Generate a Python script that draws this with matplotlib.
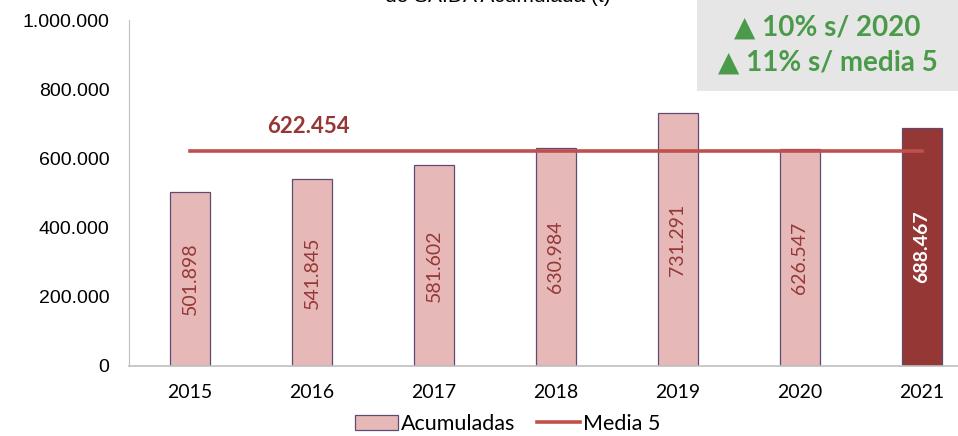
import numpy as np
import matplotlib

matplotlib.use("Agg")
import matplotlib.pyplot as plt
from matplotlib.patches import Patch
from matplotlib.lines import Line2D

YEARS = ["2015", "2016", "2017", "2018", "2019", "2020", "2021"]
ACUMULADAS = [501898, 541845, 581602, 630984, 731291, 626547, 688467]
MEDIA_5 = 622454
YTICKS = [0, 200000, 400000, 600000, 800000, 1000000]
BOX_LINES = ["\u25B2 10% s/ 2020", "\u25B2 11% s/ media 5"]
TITLE = "de SAÍDA Acumulada (t)"

BAR_COLOR = "#E6B9B8"
LAST_COLOR = "#953735"
EDGE = "#5F4B72"
LINE_COLOR = "#C0504D"
LABEL_COLOR = "#953735"
GREEN = "#4A9A4A"


def fmt(v):
    return f"{v:,.0f}".replace(",", ".")


fig = plt.figure(figsize=(9.58, 4.36), dpi=100)
ax = fig.add_axes([129 / 958, 1 - 366 / 436, 854 / 958, 346 / 436])

x = np.arange(len(YEARS))
colors = [BAR_COLOR] * (len(YEARS) - 1) + [LAST_COLOR]
ax.bar(x, ACUMULADAS, width=0.32, color=colors, edgecolor=EDGE, linewidth=0.9, zorder=2)
ax.plot([x[0], x[-1]], [MEDIA_5, MEDIA_5], color=LINE_COLOR, linewidth=2.6, zorder=3)

for i, v in enumerate(ACUMULADAS):
    last = i == len(ACUMULADAS) - 1
    ax.text(i, v / 2, fmt(v), rotation=90, ha="center", va="center",
            fontsize=14, family="Lato",
            color="white" if last else LABEL_COLOR,
            fontweight="bold" if last else "normal", zorder=4)

ax.text(0.97, MEDIA_5 + 70000, fmt(MEDIA_5), ha="center", va="center",
        fontsize=16, fontweight="bold", family="Lato", color=LABEL_COLOR)

ax.set_xlim(-0.5, len(YEARS) - 0.5)
ax.set_ylim(0, 1000000)
ax.set_xticks(x)
ax.set_xticklabels(YEARS, fontsize=14, family="Lato")
ax.set_yticks(YTICKS)
ax.set_yticklabels([fmt(v) for v in YTICKS], fontsize=14, family="Liberation Sans")
ax.tick_params(axis="x", length=0, pad=13)
ax.tick_params(axis="y", length=0, pad=14)
for s in ["top", "right"]:
    ax.spines[s].set_visible(False)
ax.spines["left"].set_color("#BFBFBF")
ax.spines["bottom"].set_color("#BFBFBF")
ax.spines["bottom"].set_linewidth(1.2)

# gray annotation box, top right
box = fig.add_axes([697 / 958, 1 - 91 / 436, 261 / 958, 91 / 436])
box.set_facecolor("#E6E6E6")
box.set_xticks([])
box.set_yticks([])
for s in box.spines.values():
    s.set_visible(False)
box.text(0.5, 0.70, BOX_LINES[0], ha="center", va="center", fontsize=20,
         fontweight="bold", color=GREEN, family=["Lato", "DejaVu Sans"])
box.text(0.5, 0.31, BOX_LINES[1], ha="center", va="center", fontsize=20,
         fontweight="bold", color=GREEN, family=["Lato", "DejaVu Sans"])

# title, cut off by the top edge in the reference
fig.text(0.52, 1.012, TITLE, ha="center", va="center", fontsize=15,
         family="Liberation Sans")

handles = [Patch(facecolor=BAR_COLOR, edgecolor=EDGE, linewidth=0.9),
           Line2D([0], [0], color=LINE_COLOR, linewidth=2.6)]
fig.legend(handles, ["Acumuladas", "Media 5"], loc="center",
           bbox_to_anchor=(0.53, 1 - 424 / 436), ncol=2, frameon=False,
           prop={"family": "Lato", "size": 15.5}, handlelength=2.0,
           handletextpad=0.15, columnspacing=1.0)

fig.savefig("out.png", dpi=100)
